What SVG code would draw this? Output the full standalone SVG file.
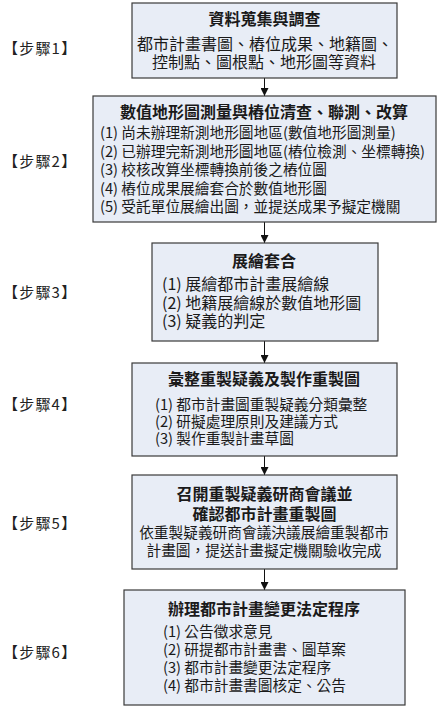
<svg xmlns="http://www.w3.org/2000/svg" width="439" height="708" viewBox="0 0 439 708">
<defs>
<marker id="ah" viewBox="0 0 8 8" refX="8" refY="4" markerWidth="8" markerHeight="8" markerUnits="userSpaceOnUse" orient="auto">
<path d="M0,0 L8,4 L0,8 Z" fill="#111"/>
</marker>
<style>
.box{fill:#e8edf6;stroke:#3a3a3a;stroke-width:1.2}
text{font-family:"Noto Sans CJK TC","Noto Sans CJK SC",sans-serif;fill:#1a1a1a}
.t{font-size:16px;font-weight:bold;text-anchor:middle}
.b16{font-size:16px}
.b{font-size:14.7px}
.c{text-anchor:middle}
.step{font-size:15px;letter-spacing:1.2px;fill:#222}
.conn{stroke:#111;stroke-width:1;fill:none;marker-end:url(#ah)}
</style>
</defs>
<rect width="439" height="708" fill="#ffffff"/>
<g id="connectors">
<line class="conn" x1="264.5" y1="78" x2="264.5" y2="96"/>
<line class="conn" x1="264.5" y1="222" x2="264.5" y2="243"/>
<line class="conn" x1="264.5" y1="341" x2="264.5" y2="363"/>
<line class="conn" x1="264.5" y1="456" x2="264.5" y2="475"/>
<line class="conn" x1="264.5" y1="569" x2="264.5" y2="590"/>
</g>
<g id="step1"><text class="step" x="3" y="54">【步驟1】</text></g>
<g id="step2"><text class="step" x="3" y="167">【步驟2】</text></g>
<g id="step3"><text class="step" x="3" y="298">【步驟3】</text></g>
<g id="step4"><text class="step" x="3" y="410">【步驟4】</text></g>
<g id="step5"><text class="step" x="3" y="529">【步驟5】</text></g>
<g id="step6"><text class="step" x="3" y="658">【步驟6】</text></g>
<g id="node1">
<rect class="box" x="132" y="3" width="265" height="75"/>
<text class="t" x="264.5" y="25">資料蒐集與調查</text>
<text class="b16 c"><tspan x="265" y="50">都市計畫書圖、樁位成果、地籍圖、</tspan><tspan x="264" y="68">控制點、圖根點、地形圖等資料</tspan></text>
</g>
<g id="node2">
<rect class="box" x="93" y="96" width="343" height="126"/>
<text class="t" x="264" y="118">數值地形圖測量與樁位清查、聯測、改算</text>
<text class="b"><tspan x="100" y="138">(1) 尚未辦理新測地形圖地區(數值地形圖測量)</tspan><tspan x="100" y="156.5">(2) 已辦理完新測地形圖地區(樁位檢測、坐標轉換)</tspan><tspan x="100" y="175">(3) 校核改算坐標轉換前後之樁位圖</tspan><tspan x="100" y="193.5">(4) 樁位成果展繪套合於數值地形圖</tspan><tspan x="100" y="212">(5) 受託單位展繪出圖，並提送成果予擬定機關</tspan></text>
</g>
<g id="node3">
<rect class="box" x="152" y="243" width="226" height="98"/>
<text class="t" x="264" y="267">展繪套合</text>
<text class="b16"><tspan x="162" y="290">(1) 展繪都市計畫展繪線</tspan><tspan x="162" y="308.5">(2) 地籍展繪線於數值地形圖</tspan><tspan x="162" y="327">(3) 疑義的判定</tspan></text>
</g>
<g id="node4">
<rect class="box" x="132" y="363" width="265" height="93"/>
<text class="t" x="264" y="385">彙整重製疑義及製作重製圖</text>
<text class="b"><tspan x="155" y="410">(1) 都市計畫圖重製疑義分類彙整</tspan><tspan x="155" y="427">(2) 研擬處理原則及建議方式</tspan><tspan x="155" y="444">(3) 製作重製計畫草圖</tspan></text>
</g>
<g id="node5">
<rect class="box" x="132" y="475" width="265" height="94"/>
<text class="t"><tspan x="264.5" y="500">召開重製疑義研商會議並</tspan><tspan x="264.5" y="520">確認都市計畫重製圖</tspan></text>
<text class="b c"><tspan x="264" y="538">依重製疑義研商會議決議展繪重製都市</tspan><tspan x="264" y="555.5">計畫圖，提送計畫擬定機關驗收完成</tspan></text>
</g>
<g id="node6">
<rect class="box" x="124" y="590" width="281" height="115"/>
<text class="t" x="264" y="615">辦理都市計畫變更法定程序</text>
<text class="b"><tspan x="163" y="637">(1) 公告徵求意見</tspan><tspan x="163" y="655">(2) 研提都市計畫書、圖草案</tspan><tspan x="163" y="673">(3) 都市計畫變更法定程序</tspan><tspan x="163" y="691">(4) 都市計畫書圖核定、公告</tspan></text>
</g>
</svg>
